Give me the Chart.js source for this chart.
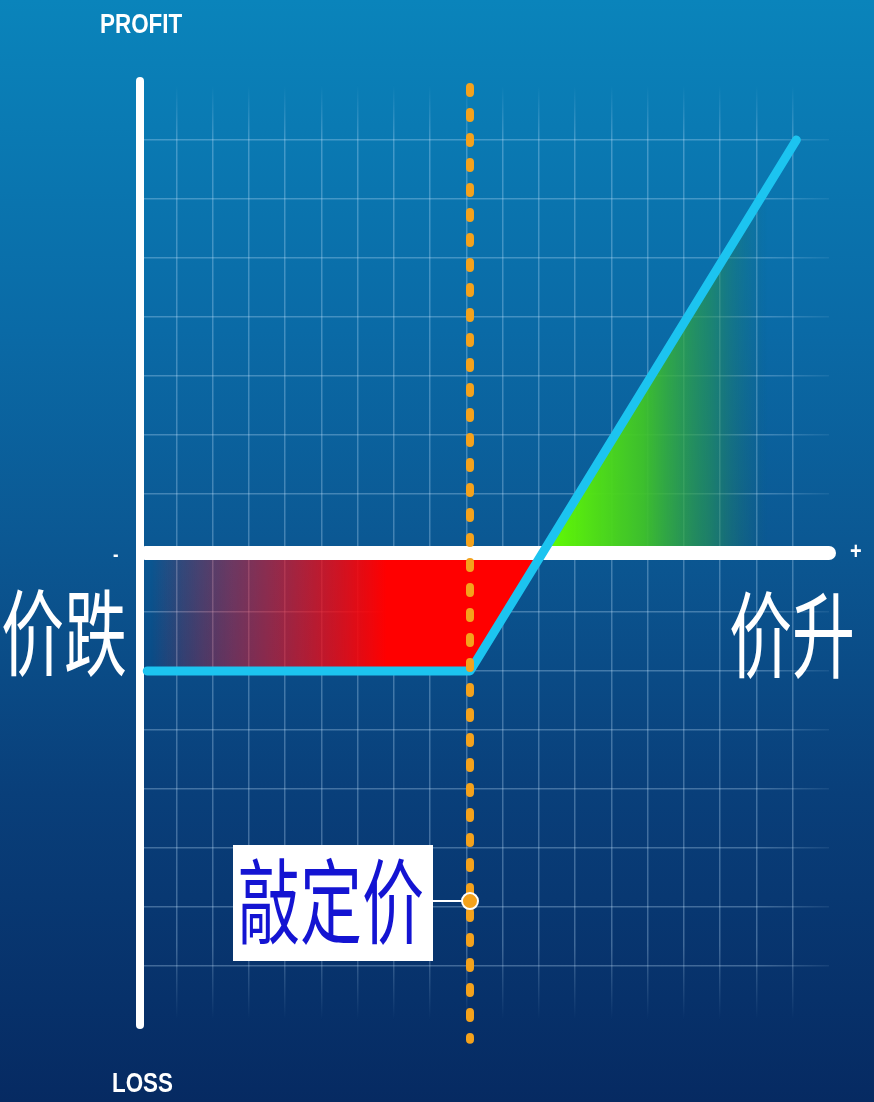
<!DOCTYPE html>
<html>
<head>
<meta charset="utf-8">
<script src="https://cdn.jsdelivr.net/npm/chart.js@4/dist/chart.umd.min.js"></script>
<style>
html, body { margin: 0; padding: 0; }
body {
  width: 874px; height: 1102px; overflow: hidden; position: relative;
  background: linear-gradient(to bottom, #0a84bb 0%, #0a6aa6 30%, #0b5792 50%, #093f7a 72%, #062a62 100%);
  font-family: "Liberation Sans", Arial, sans-serif;
}
#mycanvas { position: absolute; left: 0; top: 0; }
.lbl { position: absolute; color: #fff; white-space: nowrap; line-height: 1; }
.small { font-family: "Liberation Sans", Arial, sans-serif; font-weight: bold; font-size: 27px; transform-origin: 0 0; transform: scaleX(0.83); }
.big { font-family: "Noto Sans CJK SC", sans-serif; font-size: 63px; transform-origin: 0 0; transform: scaleY(1.5); }
#strikebox {
  position: absolute; left: 233px; top: 845px; width: 200px; height: 116px;
  background: #fff; color: #1414d2; font-family: "Noto Sans CJK SC", sans-serif;
  font-size: 62px; line-height: 1; overflow: hidden;
}
#strikebox span { position: absolute; left: 5px; top: 5px; transform-origin: 0 0; transform: scaleY(1.5); }
</style>
</head>
<body>
<canvas id="mycanvas" width="874" height="1102"></canvas>
<div class="lbl small" style="left:100px;top:11px;">PROFIT</div>
<div class="lbl small" style="left:112px;top:1070px;">LOSS</div>
<div class="lbl small" style="left:113px;top:544px;font-size:20px;">-</div>
<div class="lbl small" style="left:850px;top:539px;font-size:24px;">+</div>
<div class="lbl big" style="left:1px;top:580px;">价跌</div>
<div class="lbl big" style="left:729px;top:582px;">价升</div>
<div id="strikebox"><span>敲定价</span></div>
<script>
// price axis runs 0..19 grid units, profit axis -8..8
var xTicks = [0, 19];
var yTicks = [-8, 8];

// long call payoff
var payoffX = [0.2, 9.1, 18.1];
var payoffY = [-2, -2, 7];

// loss area (premium paid) and profit area
var lossX = [0.2, 9.1, 11.1];
var lossY = [-2, -2, 0];
var gainX = [11.1, 17.3];
var gainY = [0, 6.2];

// strike price
var strike = 9.1;
var strikeTop = 7.9;
var strikeBottom = -8.25;
var strikeLabelY = -5.9;
var strikeLabelX = 8.03;

function pts(xs, ys) {
  var out = [];
  for (var i in xs) out.push({x: xs[i], y: ys[i]});
  return out;
}

var redGrad = null, greenGrad = null, vGridGrad = null, hGridGrad = null;

function redFill(c) {
  var ch = c.chart;
  if (!ch.chartArea) return 'red';
  if (!redGrad) {
    var sx = ch.scales.x;
    redGrad = ch.ctx.createLinearGradient(sx.getPixelForValue(0.3), 0, sx.getPixelForValue(6.8), 0);
    redGrad.addColorStop(0, 'rgba(255,0,0,0)');
    redGrad.addColorStop(0.35, 'rgba(230,20,40,0.45)');
    redGrad.addColorStop(1, 'rgba(255,0,0,1)');
  }
  return redGrad;
}

function greenFill(c) {
  var ch = c.chart;
  if (!ch.chartArea) return 'green';
  if (!greenGrad) {
    var sx = ch.scales.x;
    greenGrad = ch.ctx.createLinearGradient(sx.getPixelForValue(11.1), 0, sx.getPixelForValue(17.3), 0);
    greenGrad.addColorStop(0, 'rgba(100,255,0,1)');
    greenGrad.addColorStop(0.45, 'rgba(64,196,40,0.95)');
    greenGrad.addColorStop(0.75, 'rgba(40,150,80,0.6)');
    greenGrad.addColorStop(1, 'rgba(30,110,110,0)');
  }
  return greenGrad;
}

function xGridColor(c) {
  var ch = c.chart;
  if (!c.tick || xTicks.indexOf(c.tick.value) >= 0) return 'rgba(0,0,0,0)';
  if (!vGridGrad) {
    vGridGrad = ch.ctx.createLinearGradient(0, 85, 0, 1020);
    vGridGrad.addColorStop(0, 'rgba(200,230,255,0)');
    vGridGrad.addColorStop(0.06, 'rgba(200,230,255,0.3)');
    vGridGrad.addColorStop(0.92, 'rgba(200,230,255,0.3)');
    vGridGrad.addColorStop(1, 'rgba(200,230,255,0)');
  }
  return vGridGrad;
}

function yGridColor(c) {
  var ch = c.chart;
  if (!c.tick || yTicks.indexOf(c.tick.value) >= 0 || c.tick.value === 0) return 'rgba(0,0,0,0)';
  if (!hGridGrad) {
    hGridGrad = ch.ctx.createLinearGradient(140, 0, 830, 0);
    hGridGrad.addColorStop(0, 'rgba(200,230,255,0.3)');
    hGridGrad.addColorStop(0.9, 'rgba(200,230,255,0.3)');
    hGridGrad.addColorStop(1, 'rgba(200,230,255,0.08)');
  }
  return hGridGrad;
}

var chartdata = {
  datasets: [
    {
      label: 'strike point',
      data: pts([strike], [strikeLabelY]),
      pointRadius: 8, pointBackgroundColor: '#f4a21c', pointBorderColor: '#ffffff', pointBorderWidth: 2,
      showLine: false, order: 1
    },
    {
      label: 'strike connector',
      data: pts([strikeLabelX, strike], [strikeLabelY, strikeLabelY]),
      borderColor: '#ffffff', borderWidth: 2, pointRadius: 0, order: 2
    },
    {
      label: 'strike',
      data: pts([strike, strike], [strikeTop, strikeBottom]),
      borderColor: '#f4a21c', borderWidth: 8, borderDash: [6, 19], borderCapStyle: 'round',
      pointRadius: 0, order: 3
    },
    {
      label: 'payoff',
      data: pts(payoffX, payoffY),
      borderColor: '#1cc4f0', borderWidth: 9, borderCapStyle: 'round', borderJoinStyle: 'round',
      pointRadius: 0, order: 4
    },
    {
      label: 'profit axis',
      data: pts([0, 0], yTicks),
      borderColor: '#ffffff', borderWidth: 8, borderCapStyle: 'round', pointRadius: 0, order: 5
    },
    {
      label: 'price axis',
      data: pts([0.15, 19], [0, 0]),
      borderColor: '#ffffff', borderWidth: 14, borderCapStyle: 'round', pointRadius: 0, order: 6
    },
    {
      label: 'loss',
      data: pts(lossX, lossY),
      borderWidth: 0, borderColor: 'rgba(0,0,0,0)', backgroundColor: redFill,
      fill: 'origin', pointRadius: 0, order: 7
    },
    {
      label: 'gain',
      data: pts(gainX, gainY),
      borderWidth: 0, borderColor: 'rgba(0,0,0,0)', backgroundColor: greenFill,
      fill: 'origin', pointRadius: 0, order: 8
    }
  ]
};

var ctx = document.getElementById('mycanvas');
var lineGraph = new Chart(ctx, {
  type: 'line',
  data: chartdata,
  options: {
    responsive: false,
    animation: false,
    clip: false,
    layout: { padding: { left: 140, right: 45, top: 81, bottom: 77 } },
    plugins: { legend: { display: false }, tooltip: { enabled: false } },
    elements: { line: { tension: 0 } },
    scales: {
      x: {
        type: 'linear', min: xTicks[0], max: xTicks[1],
        ticks: { display: false, stepSize: 1 },
        border: { display: false },
        grid: { drawTicks: false, color: xGridColor, lineWidth: 1.5 }
      },
      y: {
        type: 'linear', min: yTicks[0], max: yTicks[1],
        ticks: { display: false, stepSize: 1 },
        border: { display: false },
        grid: { drawTicks: false, color: yGridColor, lineWidth: 1.5 }
      }
    }
  }
});
</script>
</body>
</html>
